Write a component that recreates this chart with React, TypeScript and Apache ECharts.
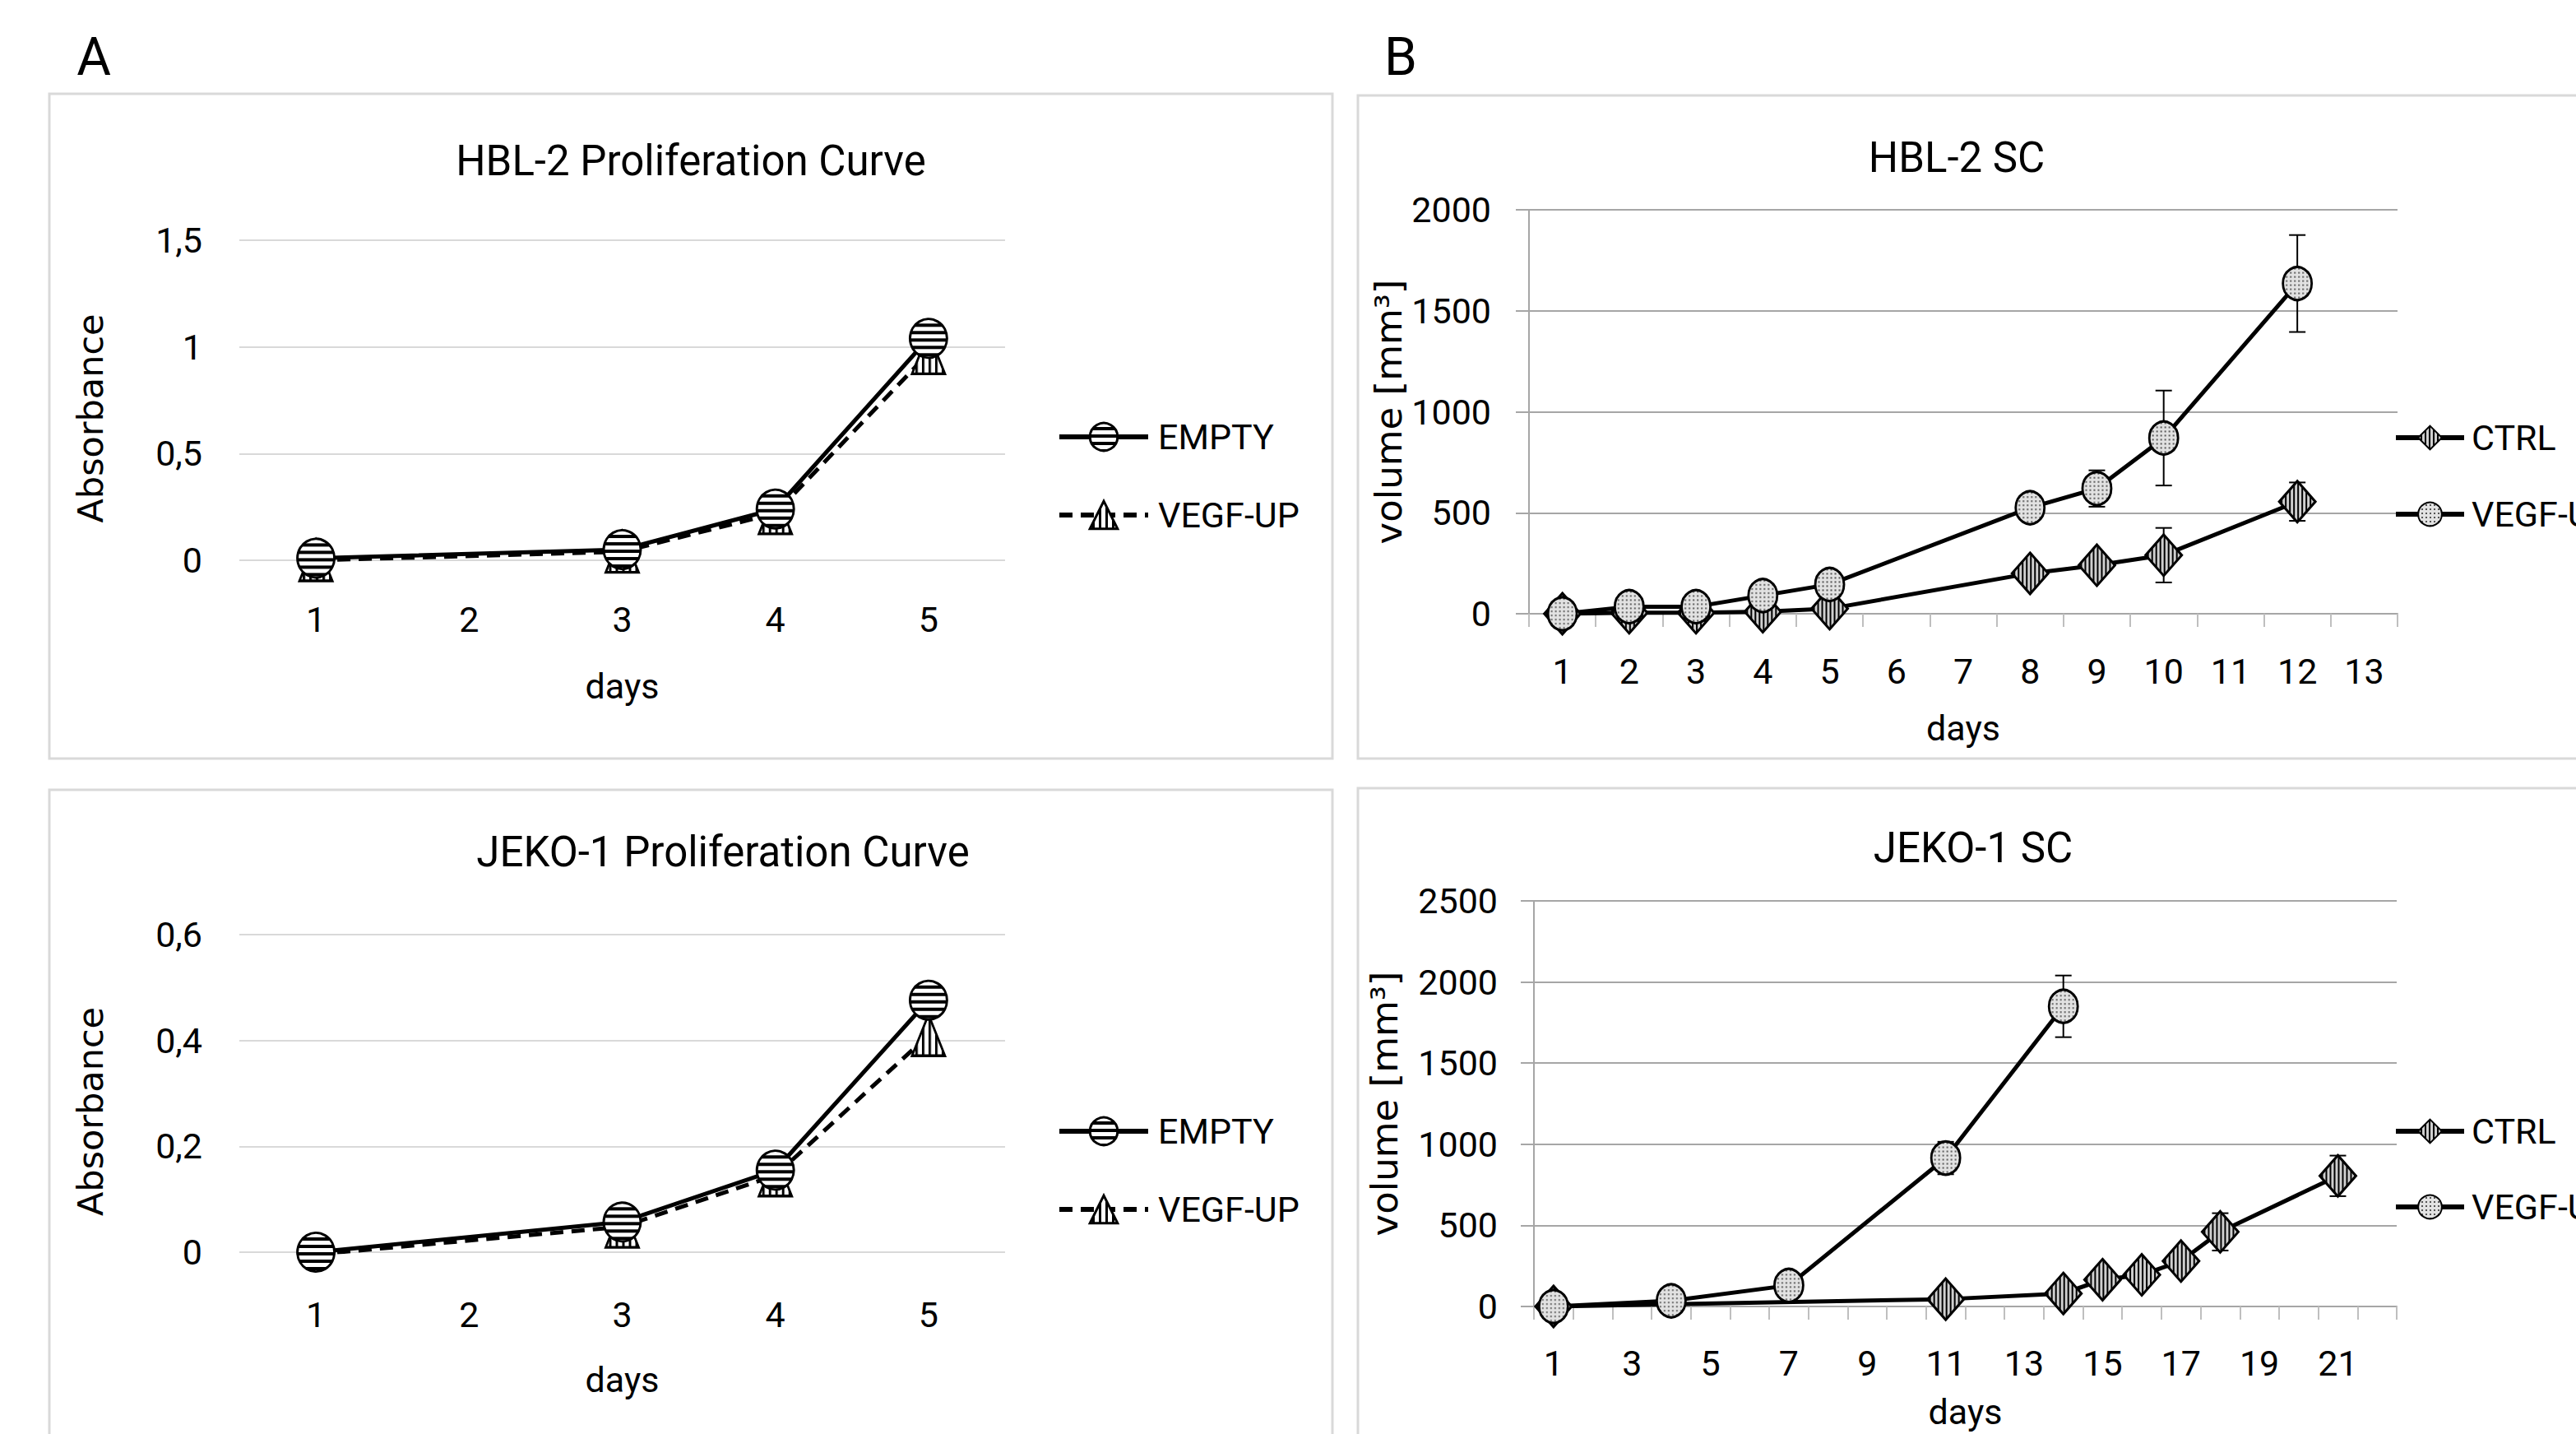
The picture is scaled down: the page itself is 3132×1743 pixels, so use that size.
import React, { useEffect, useRef } from 'react';
import * as echarts from 'echarts';

const PAGE_W = 3132;
const PAGE_H = 1743;

// ---------- Panel A: in-vitro proliferation (absorbance) ----------
const daysA = ['1', '2', '3', '4', '5'];
const hblEmpty = [0.01, null, 0.05, 0.24, 1.04];
const hblVegfUpA = [0.0, null, 0.04, 0.22, 0.97];
const jekoEmpty = [0.0, null, 0.057, 0.155, 0.476];
const jekoVegfUpA = [-0.004, null, 0.048, 0.145, 0.41];
const hblAbsTicks = [0, 0.5, 1, 1.5];
const jekoAbsTicks = [0, 0.2, 0.4, 0.6];

// ---------- Panel B: subcutaneous tumour volume (mm3) ----------
const daysB1 = ['1', '2', '3', '4', '5', '6', '7', '8', '9', '10', '11', '12', '13'];
const hblCtrl = [0, 5, 5, 10, 25, null, null, 200, 240, 290, null, 555, null];
const hblVegfUpB = [0, 35, 35, 90, 145, null, null, 525, 620, 870, null, 1635, null];
const hblCtrlErr = [null, null, null, null, null, null, null, null, null, 135, null, 95, null];
const hblVegfUpErr = [null, null, null, null, null, null, null, null, 90, 235, null, 240, null];
const hblVolTicks = [0, 500, 1000, 1500, 2000];

const daysB2 = ['1', '2', '3', '4', '5', '6', '7', '8', '9', '10', '11', '12', '13', '14', '15', '16', '17', '18', '19', '20', '21', '22'];
const jekoCtrl = [0, null, null, null, null, null, null, null, null, null, 45, null, null, 80, 165, 195, 280, 460, null, null, 805, null];
const jekoVegfUpB = [0, null, null, 35, null, null, 130, null, null, null, 915, null, null, 1850, null, null, null, null, null, null, null, null];
const jekoCtrlErr = [null, null, null, null, null, null, null, null, null, null, null, null, null, null, null, null, null, 115, null, null, 125, null];
const jekoVegfUpErr = [null, null, null, null, null, null, null, null, null, null, 100, null, null, 190, null, null, null, null, null, null, null, null];
const jekoVolTicks = [0, 500, 1000, 1500, 2000, 2500];

const FONT = 'Roboto';
const NAME_FONT = 'DejaVu Sans';
const LIGHT_GRID = '#d9d9d9';
const MID_GRID = '#a6a6a6';

function tile(size: number, draw: (ctx: CanvasRenderingContext2D) => void): string {
  const c = document.createElement('canvas');
  c.width = size;
  c.height = size;
  const ctx = c.getContext('2d') as CanvasRenderingContext2D;
  draw(ctx);
  return c.toDataURL();
}

function pattern(src: string, size: number, sx = 1, sy = 1): any {
  return { image: src, repeat: 'repeat', imageWidth: size, imageHeight: size, scaleX: sx, scaleY: sy };
}

function errorBarSeries(axisIdx: number, vals: (number | null)[], errs: (number | null)[]): any {
  const data: number[][] = [];
  vals.forEach((v, i) => {
    const e = errs[i];
    if (v != null && e != null) data.push([i, v - e, v + e]);
  });
  return {
    type: 'custom',
    xAxisIndex: axisIdx,
    yAxisIndex: axisIdx,
    z: 2,
    silent: true,
    data,
    encode: { x: 0, y: [1, 2] },
    renderItem: (params: any, api: any) => {
      const x = api.value(0);
      const lo = api.coord([x, api.value(1)]);
      const hi = api.coord([x, api.value(2)]);
      const cap = 10;
      const style = { stroke: '#000', lineWidth: 2 };
      return {
        type: 'group',
        children: [
          { type: 'line', shape: { x1: lo[0], y1: lo[1], x2: hi[0], y2: hi[1] }, style },
          { type: 'line', shape: { x1: hi[0] - cap, y1: hi[1], x2: hi[0] + cap, y2: hi[1] }, style },
          { type: 'line', shape: { x1: lo[0] - cap, y1: lo[1], x2: lo[0] + cap, y2: lo[1] }, style },
        ],
      };
    },
  };
}

const commaFmt = (v: number) => String(v).replace('.', ',');
const plainFmt = (v: number) => String(v);

function axisLabelStyle(extra: any) {
  return { fontSize: 43, color: '#000', fontFamily: FONT, ...extra };
}

function buildOption(): any {
  const hStripe = tile(9, (ctx) => {
    ctx.fillStyle = '#fff'; ctx.fillRect(0, 0, 9, 9);
    ctx.fillStyle = '#000'; ctx.fillRect(0, 0, 9, 4);
  });
  const vStripe = tile(8, (ctx) => {
    ctx.fillStyle = '#fff'; ctx.fillRect(0, 0, 8, 8);
    ctx.fillStyle = '#000'; ctx.fillRect(0, 0, 3, 8);
  });
  const vStripeDark = tile(5, (ctx) => {
    ctx.fillStyle = '#cfcfcf'; ctx.fillRect(0, 0, 5, 5);
    ctx.fillStyle = '#000'; ctx.fillRect(0, 0, 2, 5);
  });
  const dotted = tile(5, (ctx) => {
    ctx.fillStyle = '#e2e2e2'; ctx.fillRect(0, 0, 5, 5);
    ctx.fillStyle = '#555'; ctx.fillRect(1, 1, 2, 2);
  });

  const A_CIRCLE = [45, 47];
  const A_TRI = [40, 50];
  const B_DIAMOND = [44, 50];
  const B_CIRCLE = [35, 40];

  const aLegend = (top: number, suffix: string) => ({
    orient: 'vertical', left: 1285, top, padding: 0,
    itemWidth: 108, itemHeight: 42, itemGap: 52, selectedMode: false,
    data: [
      { name: 'EMPTY' + suffix, itemStyle: { color: pattern(hStripe, 9) } },
      { name: 'VEGF-UP' + suffix, itemStyle: { color: pattern(vStripe, 8) } },
    ],
    formatter: (n: string) => n.replace(/ \(.*\)$/, ''),
    textStyle: { fontSize: 43, lineHeight: 43, color: '#000', fontFamily: FONT, padding: [0, 0, 0, 7] },
    lineStyle: { width: 6 },
    itemStyle: { borderWidth: 3, borderColor: '#000' },
  });
  const bLegend = (top: number, gap: number, suffix: string) => ({
    orient: 'vertical', left: 2910, top, padding: 0,
    itemWidth: 83, itemHeight: 36, itemGap: gap, selectedMode: false,
    data: [
      { name: 'CTRL' + suffix, itemStyle: { color: pattern(vStripeDark, 5) } },
      { name: 'VEGF-UP' + suffix, itemStyle: { color: pattern(dotted, 5) } },
    ],
    formatter: (n: string) => n.replace(/ \(.*\)$/, ''),
    textStyle: { fontSize: 43, lineHeight: 43, color: '#000', fontFamily: FONT, padding: [0, 0, 0, 4] },
    lineStyle: { width: 6 },
    itemStyle: { borderWidth: 2, borderColor: '#000' },
  });

  const aX = (gridIndex: number, labelMargin: number, nameGap: number) => ({
    type: 'category', gridIndex, data: daysA, boundaryGap: true,
    axisLine: { show: false }, axisTick: { show: false }, splitLine: { show: false },
    axisLabel: axisLabelStyle({ margin: labelMargin, verticalAlign: 'middle', interval: 0 }),
    name: 'days', nameLocation: 'middle', nameGap,
    nameTextStyle: { fontSize: 43, color: '#000', fontFamily: FONT, verticalAlign: 'middle' },
  });
  const aY = (gridIndex: number, ticks: number[]) => ({
    type: 'value', gridIndex,
    min: ticks[0], max: ticks[ticks.length - 1], interval: ticks[1] - ticks[0],
    axisLine: { show: false }, axisTick: { show: false },
    splitLine: { show: true, lineStyle: { color: LIGHT_GRID, width: 2 } },
    axisLabel: axisLabelStyle({ margin: 45, formatter: commaFmt }),
    name: 'Absorbance', nameLocation: 'middle', nameGap: 181,
    nameTextStyle: { fontFamily: NAME_FONT, fontSize: 43, color: '#000', verticalAlign: 'middle', padding: [0, 44, 0, 0] },
  });
  const bX = (gridIndex: number, data: string[], labelInterval: number, labelMargin: number, nameGap: number) => ({
    type: 'category', gridIndex, data, boundaryGap: true,
    axisLine: { show: true, lineStyle: { color: MID_GRID, width: 2 } },
    axisTick: { show: true, interval: 0, length: 16, lineStyle: { color: '#bfbfbf', width: 2 } },
    splitLine: { show: false },
    axisLabel: axisLabelStyle({ margin: labelMargin, verticalAlign: 'middle', interval: labelInterval }),
    name: 'days', nameLocation: 'middle', nameGap,
    nameTextStyle: { fontSize: 43, color: '#000', fontFamily: FONT, verticalAlign: 'middle' },
  });
  const bY = (gridIndex: number, ticks: number[], labelMargin: number, nameGap: number) => ({
    type: 'value', gridIndex,
    min: ticks[0], max: ticks[ticks.length - 1], interval: ticks[1] - ticks[0],
    axisLine: { show: true, lineStyle: { color: MID_GRID, width: 2 } },
    axisTick: { show: true, length: 16, lineStyle: { color: MID_GRID, width: 2 } },
    splitLine: { show: true, lineStyle: { color: MID_GRID, width: 2 } },
    axisLabel: axisLabelStyle({ margin: labelMargin, formatter: plainFmt }),
    name: 'volume [mm³]', nameLocation: 'middle', nameGap,
    nameTextStyle: { fontFamily: NAME_FONT, fontSize: 45, color: '#000', verticalAlign: 'middle' },
  });

  const lineA = (name: string, idx: number, data: any[], symbol: string, size: number[], img: string, tsize: number, dashed: boolean) => ({
    type: 'line', name, xAxisIndex: idx, yAxisIndex: idx, data, connectNulls: true,
    symbol, symbolSize: size, z: 3, showAllSymbol: true,
    lineStyle: { color: '#000', width: 5, type: dashed ? [16, 10] : 'solid' },
    itemStyle: { color: pattern(img, tsize, 2 / size[0], 2 / size[1]), borderColor: '#000', borderWidth: 3 },
  });

  const titleText = (text: string, left: number, top: number, size: number) => ({
    text, left, top, textAlign: 'center', textVerticalAlign: 'middle', padding: 0,
    textStyle: { fontSize: size, fontWeight: 'normal', color: '#000', fontFamily: FONT },
  });

  return {
    animation: false,
    backgroundColor: '#fff',
    textStyle: { fontFamily: FONT },
    title: [
      titleText('A', 114, 69, 64),
      titleText('B', 1703, 69, 64),
      titleText('HBL-2 Proliferation Curve', 840, 195, 51),
      titleText('JEKO-1 Proliferation Curve', 879, 1035, 51),
      titleText('HBL-2 SC', 2379, 191, 51),
      titleText('JEKO-1 SC', 2399, 1030, 51),
    ],
    graphic: [
      { type: 'rect', silent: true, z: -1, shape: { x: 60, y: 114, width: 1560, height: 808 }, style: { fill: 'none', stroke: LIGHT_GRID, lineWidth: 3 } },
      { type: 'rect', silent: true, z: -1, shape: { x: 60, y: 960, width: 1560, height: 820 }, style: { fill: 'none', stroke: LIGHT_GRID, lineWidth: 3 } },
      { type: 'rect', silent: true, z: -1, shape: { x: 1651, y: 116, width: 1600, height: 806 }, style: { fill: 'none', stroke: LIGHT_GRID, lineWidth: 3 } },
      { type: 'rect', silent: true, z: -1, shape: { x: 1651, y: 958, width: 1600, height: 900 }, style: { fill: 'none', stroke: LIGHT_GRID, lineWidth: 3 } },
    ],
    legend: [
      aLegend(509.5, ' (HBL-2 A)'),
      aLegend(1353.5, ' (JEKO-1 A)'),
      bLegend(510.5, 50, ' (HBL-2 B)'),
      bLegend(1353.5, 49, ' (JEKO-1 B)'),
    ],
    grid: [
      { left: 291, top: 292, width: 931, height: 389, containLabel: false, outerBoundsMode: 'none' },
      { left: 291, top: 1136, width: 931, height: 386, containLabel: false, outerBoundsMode: 'none' },
      { left: 1859, top: 255, width: 1056, height: 491, containLabel: false, outerBoundsMode: 'none' },
      { left: 1865, top: 1095, width: 1049, height: 493, containLabel: false, outerBoundsMode: 'none' },
    ],
    xAxis: [
      aX(0, 72, 153),
      aX(1, 76, 155),
      bX(2, daysB1, 0, 70, 139),
      bX(3, daysB2, 1, 69, 128),
    ],
    yAxis: [
      aY(0, hblAbsTicks),
      aY(1, jekoAbsTicks),
      bY(2, hblVolTicks, 46, 171),
      bY(3, jekoVolTicks, 44, 182),
    ],
    series: [
      lineA('VEGF-UP (HBL-2 A)', 0, hblVegfUpA, 'triangle', A_TRI, vStripe, 8, true),
      lineA('EMPTY (HBL-2 A)', 0, hblEmpty, 'circle', A_CIRCLE, hStripe, 9, false),
      lineA('VEGF-UP (JEKO-1 A)', 1, jekoVegfUpA, 'triangle', A_TRI, vStripe, 8, true),
      lineA('EMPTY (JEKO-1 A)', 1, jekoEmpty, 'circle', A_CIRCLE, hStripe, 9, false),
      errorBarSeries(2, hblCtrl, hblCtrlErr),
      errorBarSeries(2, hblVegfUpB, hblVegfUpErr),
      lineA('CTRL (HBL-2 B)', 2, hblCtrl, 'diamond', B_DIAMOND, vStripeDark, 5, false),
      lineA('VEGF-UP (HBL-2 B)', 2, hblVegfUpB, 'circle', B_CIRCLE, dotted, 5, false),
      errorBarSeries(3, jekoCtrl, jekoCtrlErr),
      errorBarSeries(3, jekoVegfUpB, jekoVegfUpErr),
      lineA('CTRL (JEKO-1 B)', 3, jekoCtrl, 'diamond', B_DIAMOND, vStripeDark, 5, false),
      lineA('VEGF-UP (JEKO-1 B)', 3, jekoVegfUpB, 'circle', B_CIRCLE, dotted, 5, false),
    ],
  };
}

export default function App() {
  const ref = useRef<HTMLDivElement>(null);
  useEffect(() => {
    if (!ref.current) return;
    const chart = echarts.init(ref.current, undefined, { renderer: 'svg', width: PAGE_W, height: PAGE_H });
    chart.setOption(buildOption());
    return () => chart.dispose();
  }, []);
  return (
    <div
      ref={ref}
      style={{ position: 'fixed', left: 0, top: 0, width: PAGE_W, height: PAGE_H, background: '#fff', overflow: 'hidden' }}
    />
  );
}
